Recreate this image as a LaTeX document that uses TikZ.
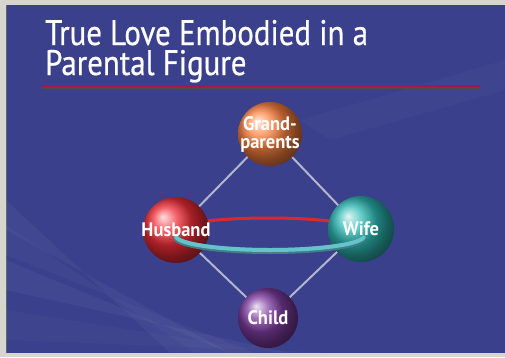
\documentclass[tikz,border=0pt]{standalone}
\usepackage{fontspec}
\setmainfont[FakeStretch=0.8]{PT Sans}
\newfontfamily\titlefont[FakeStretch=0.87, FakeBold=0.6]{PT Sans}
\newfontfamily\labelfont[FakeStretch=0.95]{PT Sans Bold}
\usetikzlibrary{shadings}
\definecolor{bgblue}{RGB}{58,64,140}
\definecolor{frame}{RGB}{214,214,206}
\definecolor{ulred}{RGB}{170,20,70}
\definecolor{linkgrey}{RGB}{178,182,205}
\definecolor{ringred}{RGB}{220,40,45}
\definecolor{ringteal}{RGB}{100,195,205}
\definecolor{gporange}{RGB}{255,130,65}
\definecolor{husred}{RGB}{240,45,55}
\definecolor{wifeteal}{RGB}{45,185,180}
\definecolor{childpurple}{RGB}{125,60,160}
\tikzset{
  sphere/.style={circle, minimum size=#1, inner sep=0pt},
  lbl/.style={text=white, font=\labelfont\fontsize{19.5}{18}\selectfont, align=center},
  titletxt/.style={anchor=base west, font=\titlefont\fontsize{35.5}{35}\selectfont, inner sep=0pt, text=white},
  link/.style={draw=linkgrey, line width=2pt},
}
\begin{document}
\begin{tikzpicture}[x=1pt,y=-1pt]
\useasboundingbox (0,0) rectangle (505,357);
\fill[frame] (0,0) rectangle (505,357);
\fill[bgblue] (6,5) rectangle (505,353);
\draw[black!60, line width=0.6pt] (6,5) -- (6,353);
% faint streaks
\begin{scope}
\clip (6,5) rectangle (505,353);
\foreach \a/\o in {0/0.04, 25/0.03, 60/0.04, 110/0.025}{
  \fill[white, opacity=\o] (6,200+\a) -- (6,230+\a) -- (230+\a,353) -- (170+\a,353) -- cycle;
}
\fill[white, opacity=0.025] (300,120) -- (505,60) -- (505,90) -- (330,140) -- cycle;
\end{scope}
% title
\node[titletxt, text depth=0pt] (t1) at (45,45) {True Love Embodied in a};
\node[titletxt, text height=20pt] (t2) at (45,75) {Parental Figure};
\draw[black!70, line width=1.2pt] (42,88) -- (480,88);
\draw[ulred, line width=2pt] (42,86) -- (480,86);
% sphere positions
\coordinate (gp) at (270,134);
\coordinate (hu) at (176,230);
\coordinate (wi) at (361,229);
\coordinate (ch) at (268,318);
% links
\draw[link] (gp) -- (hu);
\draw[link] (gp) -- (wi);
\draw[link] (hu) -- (ch);
\draw[link] (wi) -- (ch);
% back half of ring
\draw[ringred, line width=3pt] (176,230) arc[start angle=180, end angle=360, x radius=92.5, y radius=12];
% spheres
\node[sphere=64pt, ball color=gporange] (gpn) at (gp) {};
\node[sphere=66pt, ball color=husred] (hun) at (hu) {};
\node[sphere=66pt, ball color=wifeteal] (win) at (wi) {};
\node[sphere=60pt, ball color=childpurple] (chn) at (ch) {};
% front half of ring
\draw[ringteal!65!black, line width=6pt] (176,237) arc[start angle=180, end angle=0, x radius=94, y radius=14];
\draw[ringteal, line width=4pt] (176,236) arc[start angle=180, end angle=0, x radius=94, y radius=14];
% labels
\node[lbl] (gpl) at (gp) {Grand-\\parents};
\node[lbl] (hul) at (hu) {Husband};
\node[lbl] (wil) at (wi) {Wife};
\node[lbl] (chl) at (ch) {Child};
\end{tikzpicture}
\end{document}
